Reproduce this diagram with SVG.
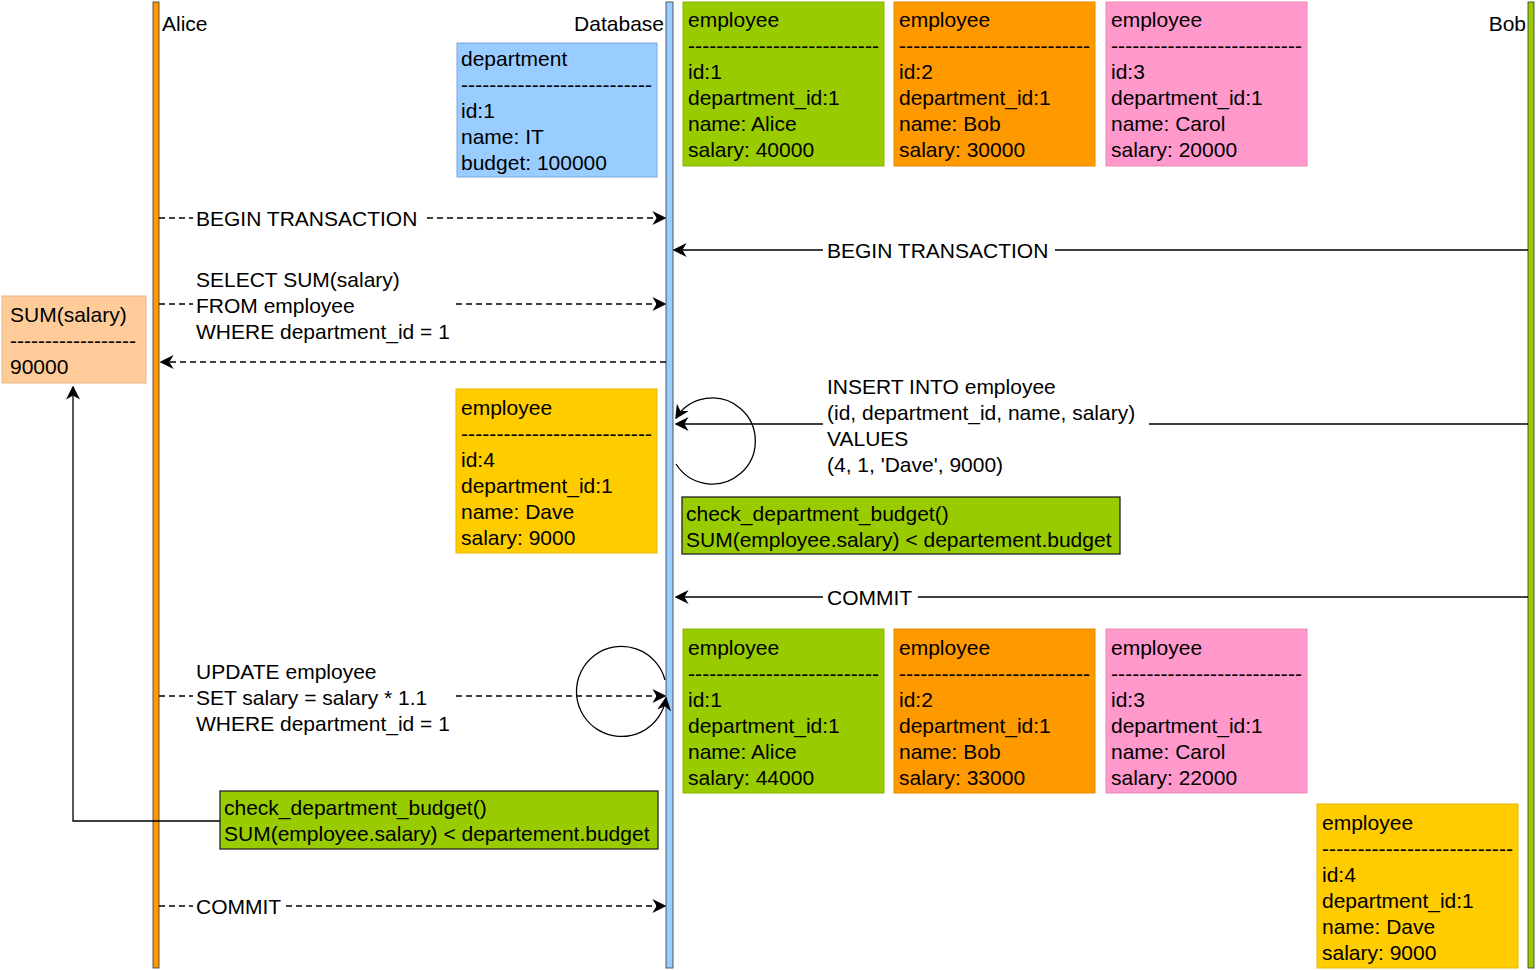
<svg xmlns="http://www.w3.org/2000/svg" width="1536" height="970" viewBox="0 0 1536 970">
<style>
text{font-family:"Liberation Sans",Arial,sans-serif;font-size:21px;fill:#000}
.c{stroke:#000;stroke-width:1.3;fill:none}
.d{stroke-dasharray:6,4}
</style>
<defs>
<marker id="a" viewBox="0 0 10 10" refX="9" refY="5" markerWidth="14" markerHeight="14" markerUnits="userSpaceOnUse" orient="auto">
<path d="M0,0 L10,5 L0,10 L3,5 Z" fill="#000"/>
</marker>
</defs>
<rect width="1536" height="970" fill="#fff"/>
<g id="alice"><rect x="153" y="2" width="6" height="966" fill="#ff9900" stroke="#333" stroke-width="0.8"/><text x="162" y="31">Alice</text></g>
<g id="database"><rect x="666" y="2" width="7" height="966" fill="#99ccff" stroke="#333" stroke-width="0.8"/><text x="664" y="31" text-anchor="end">Database</text></g>
<g id="bob"><rect x="1528" y="2" width="6" height="966" fill="#99cc00" stroke="#333" stroke-width="0.8"/><text x="1526" y="31" text-anchor="end">Bob</text></g>

<g id="department"><rect x="457" y="43" width="200" height="134" fill="#99ccff" stroke="#7ea6e0"/>
<text x="461" y="66">department</text><text x="461" y="92" textLength="191">---------------------------</text><text x="461" y="118">id:1</text><text x="461" y="144">name: IT</text><text x="461" y="170">budget: 100000</text></g>

<g id="emp1a"><rect x="683" y="2" width="201" height="164" fill="#99cc00" stroke="#8ab300"/>
<text x="688" y="27">employee</text><text x="688" y="53" textLength="191">---------------------------</text><text x="688" y="79">id:1</text><text x="688" y="105">department_id:1</text><text x="688" y="131">name: Alice</text><text x="688" y="157">salary: 40000</text></g>
<g id="emp2a"><rect x="894" y="2" width="201" height="164" fill="#ff9900" stroke="#e68a00"/>
<text x="899" y="27">employee</text><text x="899" y="53" textLength="191">---------------------------</text><text x="899" y="79">id:2</text><text x="899" y="105">department_id:1</text><text x="899" y="131">name: Bob</text><text x="899" y="157">salary: 30000</text></g>
<g id="emp3a"><rect x="1106" y="2" width="201" height="164" fill="#ff99cc" stroke="#e68ab8"/>
<text x="1111" y="27">employee</text><text x="1111" y="53" textLength="191">---------------------------</text><text x="1111" y="79">id:3</text><text x="1111" y="105">department_id:1</text><text x="1111" y="131">name: Carol</text><text x="1111" y="157">salary: 20000</text></g>

<g id="sum"><rect x="2" y="296" width="144" height="87" fill="#ffcc99" stroke="#e6b88a"/>
<text x="10" y="322">SUM(salary)</text><text x="10" y="348" textLength="126">------------------</text><text x="10" y="374">90000</text></g>

<g id="emp4a"><rect x="456" y="389" width="201" height="164" fill="#ffcc00" stroke="#e6b800"/>
<text x="461" y="415">employee</text><text x="461" y="441" textLength="191">---------------------------</text><text x="461" y="467">id:4</text><text x="461" y="493">department_id:1</text><text x="461" y="519">name: Dave</text><text x="461" y="545">salary: 9000</text></g>

<g id="check1"><rect x="682" y="497" width="438" height="57" fill="#99cc00" stroke="#222" stroke-width="1.3"/>
<text x="686" y="521">check_department_budget()</text><text x="686" y="547">SUM(employee.salary) &lt; departement.budget</text></g>

<g id="emp1b"><rect x="683" y="629" width="201" height="164" fill="#99cc00" stroke="#8ab300"/>
<text x="688" y="655">employee</text><text x="688" y="681" textLength="191">---------------------------</text><text x="688" y="707">id:1</text><text x="688" y="733">department_id:1</text><text x="688" y="759">name: Alice</text><text x="688" y="785">salary: 44000</text></g>
<g id="emp2b"><rect x="894" y="629" width="201" height="164" fill="#ff9900" stroke="#e68a00"/>
<text x="899" y="655">employee</text><text x="899" y="681" textLength="191">---------------------------</text><text x="899" y="707">id:2</text><text x="899" y="733">department_id:1</text><text x="899" y="759">name: Bob</text><text x="899" y="785">salary: 33000</text></g>
<g id="emp3b"><rect x="1106" y="629" width="201" height="164" fill="#ff99cc" stroke="#e68ab8"/>
<text x="1111" y="655">employee</text><text x="1111" y="681" textLength="191">---------------------------</text><text x="1111" y="707">id:3</text><text x="1111" y="733">department_id:1</text><text x="1111" y="759">name: Carol</text><text x="1111" y="785">salary: 22000</text></g>

<g id="check2"><rect x="220" y="791" width="438" height="58" fill="#99cc00" stroke="#222" stroke-width="1.3"/>
<text x="224" y="815">check_department_budget()</text><text x="224" y="841">SUM(employee.salary) &lt; departement.budget</text></g>

<g id="emp4b"><rect x="1317" y="804" width="201" height="164" fill="#ffcc00" stroke="#e6b800"/>
<text x="1322" y="830">employee</text><text x="1322" y="856" textLength="191">---------------------------</text><text x="1322" y="882">id:4</text><text x="1322" y="908">department_id:1</text><text x="1322" y="934">name: Dave</text><text x="1322" y="960">salary: 9000</text></g>

<g id="connectors">
<path class="c d" d="M159,218 H193"/><path class="c d" d="M427,218 H665" marker-end="url(#a)"/>
<text x="196" y="226">BEGIN TRANSACTION</text>
<path class="c" d="M1528,250 H1055"/><path class="c" d="M823,250 H674" marker-end="url(#a)"/>
<text x="827" y="258">BEGIN TRANSACTION</text>
<path class="c d" d="M159,304 H193"/><path class="c d" d="M456,304 H665" marker-end="url(#a)"/>
<text x="196" y="287">SELECT SUM(salary)</text><text x="196" y="313">FROM employee</text><text x="196" y="339">WHERE department_id = 1</text>
<path class="c d" d="M666,362 H161" marker-end="url(#a)"/>
<path class="c" d="M1528,424 H1149"/><path class="c" d="M823,424 H676" marker-end="url(#a)"/>
<text x="827" y="394">INSERT INTO employee</text><text x="827" y="420">(id, department_id, name, salary)</text><text x="827" y="446">VALUES</text><text x="827" y="472">(4, 1, 'Dave', 9000)</text>
<path class="c" d="M676,464 A43,43 0 1 0 676,418" marker-end="url(#a)"/>
<path class="c" d="M1528,597 H918"/><path class="c" d="M823,597 H676" marker-end="url(#a)"/>
<text x="827" y="605">COMMIT</text>
<path class="c d" d="M159,696 H193"/><path class="c d" d="M456,696 H665" marker-end="url(#a)"/>
<text x="196" y="679">UPDATE employee</text><text x="196" y="705">SET salary = salary * 1.1</text><text x="196" y="731">WHERE department_id = 1</text>
<path class="c" d="M665,680 A45,45 0 1 0 666,698" marker-end="url(#a)"/>
<path class="c" d="M220,821 H73 V387" marker-end="url(#a)"/>
<path class="c d" d="M159,906 H193"/><path class="c d" d="M286,906 H665" marker-end="url(#a)"/>
<text x="196" y="914">COMMIT</text>
</g>
</svg>
